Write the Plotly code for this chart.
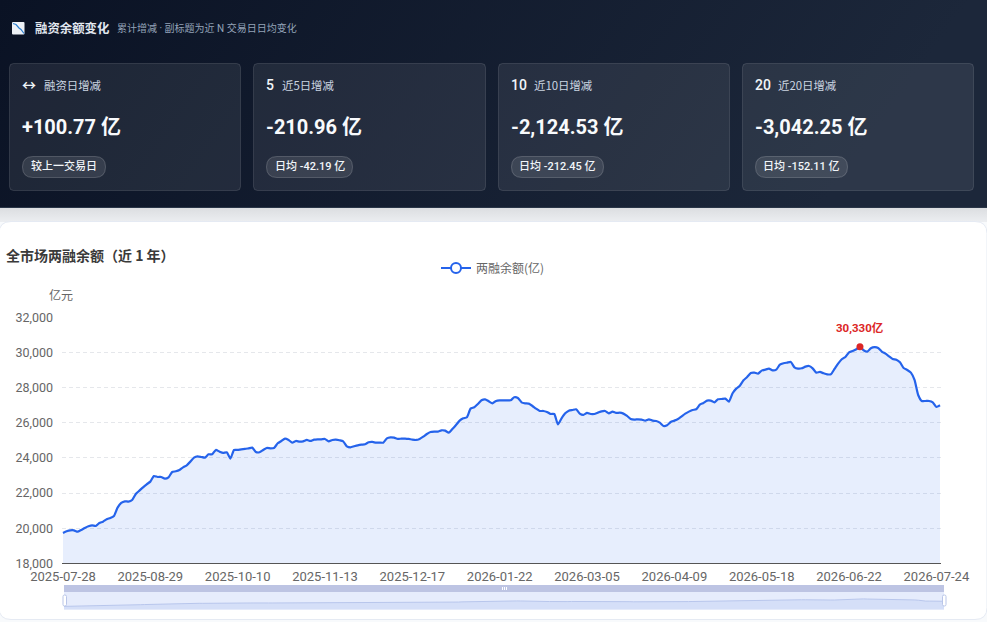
import base64
import plotly.graph_objects as go

W, H = 987, 622

# ---------- data ----------
series_name = "两融余额(亿)"
values = [
    19726, 19820, 19878, 19878, 19800, 19897, 20010, 20105, 20163, 20125,
    20295, 20370, 20504, 20580, 20694, 21168, 21434, 21528, 21510, 21604,
    21946, 22135, 22325, 22496, 22648, 22970, 22913, 22913, 22818, 22894,
    23198, 23236, 23311, 23463, 23577, 23786, 24013, 24089, 24051, 24013,
    24203, 24203, 24450, 24355, 24279, 24317, 23957, 24450, 24450, 24488,
    24507, 24545, 24583, 24336, 24317, 24450, 24564, 24545, 24564, 24829,
    24962, 25095, 25019, 24867, 24962, 24924, 24943, 25019, 24962, 25038,
    25057, 25057, 25076, 24943, 25019, 25038, 25000, 24943, 24659, 24602,
    24659, 24715, 24753, 24772, 24886, 24905, 24867, 24867, 24867, 25114,
    25170, 25151, 25076, 25095, 25095, 25076, 25038, 25019, 25076, 25208,
    25360, 25474, 25493, 25493, 25569, 25550, 25436, 25645, 25873, 26119,
    26252, 26309, 26802, 26878, 27068, 27276, 27333, 27219, 27105, 27238,
    27276, 27276, 27276, 27276, 27447, 27409, 27162, 27105, 27086, 26954,
    26802, 26669, 26669, 26612, 26498, 26498, 25911, 26252, 26537, 26688,
    26726, 26764, 26518, 26442, 26556, 26498, 26498, 26575, 26650, 26669,
    26537, 26631, 26556, 26575, 26518, 26385, 26214, 26176, 26195, 26176,
    26119, 26195, 26119, 26100, 26005, 25816, 25854, 26043, 26119, 26214,
    26366, 26518, 26631, 26727, 26764, 27030, 27125, 27258, 27258, 27163,
    27333, 27352, 27371, 27200, 27675, 27940, 28111, 28415, 28604, 28832,
    28851, 28794, 28965, 29022, 29078, 28984, 29022, 29306, 29382, 29420,
    29458, 29154, 29078, 29097, 29192, 29230, 29097, 28851, 28889, 28813,
    28756, 28756, 29059, 29363, 29610, 29743, 30008, 30084, 30180, 30330,
    30122, 30046, 30236, 30300, 30255, 30046, 29932, 29780, 29628, 29590,
    29439, 29116, 29003, 28851, 28434, 27580, 27238, 27238, 27238, 27163,
    26897, 26992,
]
trade_index = list(range(len(values)))
tick_every = 24
tick_labels = ["2025-07-28", "2025-08-29", "2025-10-10", "2025-11-13", "2025-12-17",
               "2026-01-22", "2026-03-05", "2026-04-09", "2026-05-18", "2026-06-22",
               "2026-07-24"]
y_ticks = [18000, 20000, 22000, 24000, 26000, 28000, 30000, 32000]

card_badges = ["↔", "5", "10", "20"]
card_labels = ["融资日增减", "近5日增减", "近10日增减", "近20日增减"]
card_values = ["+100.77 亿", "-210.96 亿", "-2,124.53 亿", "-3,042.25 亿"]
card_pills = ["较上一交易日", "日均 -42.19 亿", "日均 -212.45 亿", "日均 -152.11 亿"]

# ---------- helpers ----------
FONT = "Roboto, 'Noto Sans CJK SC', sans-serif"
CJK = "'Noto Sans CJK SC', Roboto, sans-serif"
def fx(px): return px / W
def fy(py): return 1 - py / H

def rr(x0, y0, x1, y1, r):
    X, Y = fx, fy
    pts = [
        f"M{X(x0+r)},{Y(y0)}", f"L{X(x1-r)},{Y(y0)}", f"Q{X(x1)},{Y(y0)} {X(x1)},{Y(y0+r)}",
        f"L{X(x1)},{Y(y1-r)}", f"Q{X(x1)},{Y(y1)} {X(x1-r)},{Y(y1)}",
        f"L{X(x0+r)},{Y(y1)}", f"Q{X(x0)},{Y(y1)} {X(x0)},{Y(y1-r)}",
        f"L{X(x0)},{Y(y0+r)}", f"Q{X(x0)},{Y(y0)} {X(x0+r)},{Y(y0)}", "Z",
    ]
    return "".join(pts)

def box(x0, y0, x1, y1, r, fill, line=None, lw=1, layer="below"):
    return dict(type="path", path=rr(x0, y0, x1, y1, r), xref="paper", yref="paper", layer=layer,
                fillcolor=fill, line=dict(color=line or "rgba(0,0,0,0)", width=lw if line else 0))

def label(px, py, text, size, color, weight=400, anchor="left", family=FONT):
    return dict(x=fx(px), y=fy(py), xref="paper", yref="paper", text=text, showarrow=False,
                xanchor=anchor, yanchor="middle", align=anchor, borderpad=0, borderwidth=0,
                font=dict(family=family, size=size, color=color, weight=weight))

# Page backdrop: dark header gradient + soft shadow strip
svg = f'''<svg xmlns="http://www.w3.org/2000/svg" width="{W}" height="{H}" viewBox="0 0 {W} {H}" preserveAspectRatio="none">
<defs>
<linearGradient id="h" gradientUnits="userSpaceOnUse" x1="0" y1="0" x2="640" y2="460">
<stop offset="0" stop-color="#0a1224"/><stop offset="1" stop-color="#1c273a"/></linearGradient>
<linearGradient id="s" x1="0" y1="0" x2="0" y2="1">
<stop offset="0" stop-color="#dcdee1"/><stop offset="1" stop-color="#eceef1"/></linearGradient>
</defs>
<rect width="{W}" height="{H}" fill="#f8fafc"/>
<rect y="208" width="{W}" height="14" fill="url(#s)"/>
<rect width="{W}" height="208" fill="url(#h)"/>
<rect y="207" width="{W}" height="1" fill="#2a3648"/>
</svg>'''
bg_uri = "data:image/svg+xml;base64," + base64.b64encode(svg.encode()).decode()

shapes, notes = [], []

# white chart card
shapes.append(box(-1, 221.5, 987, 619.5, 12, "#ffffff", "#e5eaf3", 1))

# header icon
shapes.append(box(12, 22, 24.5, 34.5, 1, "#eef2f7"))
shapes.append(dict(type="path", xref="paper", yref="paper", layer="below",
                   path=f"M{fx(13)},{fy(23.5)}L{fx(16)},{fy(24.5)}L{fx(19)},{fy(28)}L{fx(21)},{fy(29.5)}L{fx(24)},{fy(33.5)}",
                   line=dict(color="#2b7fd0", width=1.2)))
notes.append(label(35, 28, "融资余额变化", 12.4, "#e2e8f0", 700, family=CJK))
notes.append(label(117, 28, "累计增减 · 副标题为近 N 交易日日均变化", 10, "#94a3b8"))

# KPI cards
card_x = [(9, 241), (253, 486), (498, 730), (742, 974)]
label_x = [44, 282, 534, 778]
pill_x1 = [106, 353, 604, 848]
for i, (x0, x1) in enumerate(card_x):
    shapes.append(box(x0 + .5, 63.5, x1 - .5, 190.5, 4, "rgba(255,255,255,0.08)", "rgba(255,255,255,0.12)", 1))
    tx = x0 + 13
    notes.append(label(tx, 84.5, card_badges[i], 14, "#f1f5f9", 500))
    notes.append(label(label_x[i], 84.5, card_labels[i], 11.4, "#cbd5e1", family=CJK))
    notes.append(label(tx, 126.5, card_values[i], 20, "#f8fafc", 700))
    shapes.append(box(x0 + 13.5, 156.5, pill_x1[i] - .5, 177.5, 10.5, "rgba(255,255,255,0.10)", "rgba(255,255,255,0.18)", 1))
    notes.append(label((x0 + 13 + pill_x1[i]) / 2, 166.5, card_pills[i], 11, "#f1f5f9", 500, anchor="center"))

# chart headings
notes.append(label(6, 255, "全市场两融余额（近 1 年）", 14, "#3a3a3a", 700, family=CJK))
notes.append(label(49, 294.5, "亿元", 12, "#666666", family=CJK))

# data-zoom slider chrome
shapes.append(dict(type="rect", xref="paper", yref="paper", layer="below", x0=fx(64), x1=fx(944), y0=fy(592), y1=fy(609.5),
                   fillcolor="#e6ecfc", line=dict(width=0)))
shapes.append(dict(type="rect", xref="paper", yref="paper", layer="below", x0=fx(64), x1=fx(944), y0=fy(585), y1=fy(592),
                   fillcolor="#bdc4e3", line=dict(width=0)))
for hx in (502, 504, 506):
    shapes.append(dict(type="rect", xref="paper", yref="paper", layer="above", x0=fx(hx), x1=fx(hx + 1), y0=fy(587), y1=fy(590),
                       fillcolor="#ffffff", line=dict(width=0)))
for hx in (63, 942.5):
    shapes.append(box(hx, 595, hx + 3.5, 606, 1.5, "#ffffff", "#b9c5e8", 1, layer="above"))

# ---------- traces ----------
fig = go.Figure()
fig.add_trace(go.Scatter(
    x=trade_index, y=values, mode="lines", showlegend=False, hoverinfo="y",
    line=dict(color="#2563eb", width=2.2, shape="spline", smoothing=0.5),
    fill="tozeroy", fillcolor="rgba(37,99,235,0.11)",
))
fig.add_trace(go.Scatter(
    x=[None], y=[None], mode="lines+markers", name=series_name,
    line=dict(color="#2563eb", width=2),
    marker=dict(size=10, color="#ffffff", line=dict(color="#2563eb", width=2)),
))
peak = max(values)
peak_i = values.index(peak)
fig.add_trace(go.Scatter(
    x=[trade_index[peak_i]], y=[peak], mode="markers", showlegend=False,
    marker=dict(size=7, color="#dc2626"),
))
notes.append(dict(x=trade_index[peak_i], y=peak, xref="x", yref="y", yshift=19, showarrow=False,
                  text=f"{peak:,}亿", xanchor="center", yanchor="middle",
                  font=dict(family=FONT, size=11.5, color="#dc2626", weight=700)))
fig.add_trace(go.Scatter(
    x=trade_index, y=values, xaxis="x2", yaxis="y2", mode="lines", showlegend=False, hoverinfo="skip",
    line=dict(color="#b8c6ec", width=1), fill="tozeroy", fillcolor="#d5dff8",
))

fig.update_layout(
    width=W, height=H, autosize=False,
    margin=dict(l=0, r=0, t=0, b=0, pad=0, autoexpand=False),
    paper_bgcolor="#f8fafc", plot_bgcolor="rgba(0,0,0,0)",
    font=dict(family=FONT, size=12, color="#666666"),
    images=[dict(source=bg_uri, xref="paper", yref="paper", x=0, y=1, sizex=1, sizey=1,
                 xanchor="left", yanchor="top", sizing="stretch", layer="below")],
    shapes=shapes, annotations=notes,
    legend=dict(orientation="h", x=fx(436), y=fy(268), xanchor="left", yanchor="middle",
                bgcolor="rgba(0,0,0,0)", font=dict(family=CJK, size=12, color="#666666")),
    xaxis=dict(domain=[fx(62), fx(941)], anchor="y", range=[-0.27, 241.27],
               tickmode="array", tickvals=[i * tick_every for i in range(len(tick_labels))],
               ticktext=tick_labels, showgrid=False, zeroline=False,
               showline=True, linecolor="#555555", linewidth=1, ticks="", ticklabelstandoff=1,
               tickfont=dict(family=FONT, size=13, color="#666666")),
    yaxis=dict(domain=[fy(563.3), fy(317.3)], anchor="x", range=[18000, 32000],
               tickmode="array", tickvals=y_ticks, tickformat=",",
               showgrid=True, gridcolor="#e5e7eb", griddash="4px,3px", gridwidth=1,
               zeroline=False, showline=False, ticks="", ticklabelstandoff=8,
               tickfont=dict(family=FONT, size=12.5, color="#666666")),
    xaxis2=dict(domain=[fx(64), fx(944)], anchor="y2", range=[0, 241], visible=False),
    yaxis2=dict(domain=[fy(609.5), fy(592)], anchor="x2", range=[15330, 40080], visible=False),
)

fig.write_html("out.html", config={"displayModeBar": False},
               post_script="document.body.style.margin='0';document.body.style.overflow='hidden';")
